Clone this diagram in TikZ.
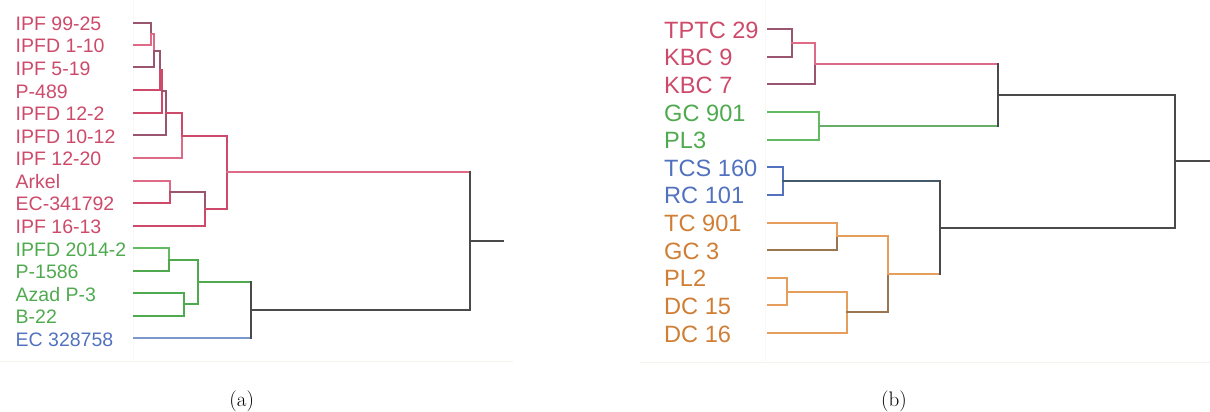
\documentclass[tikz,border=0pt]{standalone}
\usepackage{fontspec}
\newfontfamily\labfont{Liberation Sans}
\definecolor{cred}{HTML}{CD4A6A}
\definecolor{lred}{HTML}{DF6A88}
\definecolor{dred}{HTML}{9A5570}
\definecolor{cgreen}{HTML}{4FAA4F}
\definecolor{lgreen}{HTML}{62BA62}
\definecolor{cblue}{HTML}{5272C0}
\definecolor{lblue}{HTML}{7B98CE}
\definecolor{cslate}{HTML}{44596A}
\definecolor{corange}{HTML}{D07E35}
\definecolor{lorange}{HTML}{E59E5C}
\definecolor{dorange}{HTML}{9A7650}
\definecolor{cblack}{HTML}{4A4A4A}
\definecolor{faint}{HTML}{F4F4EE}
\tikzset{
  leftlab/.style={anchor=base west, inner sep=0pt, font=\labfont\fontsize{19.5}{22}\selectfont},
  rightlab/.style={anchor=base west, inner sep=0pt, font=\labfont\fontsize{23.6}{27}\selectfont},
  cl/.style={line width=2pt, line cap=rect},
  bl/.style={line width=2pt, color=cblack, line cap=rect},
  capt/.style={inner sep=0pt, font=\fontsize{21}{25}\selectfont},
}
\begin{document}
\begin{tikzpicture}[x=1pt,y=-1pt]
\useasboundingbox (0,0) rectangle (1210,412);
% faint panel rules
\draw[faint, line width=1pt] (0,361.5) -- (513,361.5);
\draw[faint, line width=1pt] (640,362) -- (1210,362);
\draw[faint!70!white, line width=0.6pt] (133,0) -- (133,361);
\draw[faint!70!white, line width=0.6pt] (765,0) -- (765,361);

% ---------------- panel (a) ----------------
\foreach \n/\y in {1/23,2/45,3/67,4/90,5/113,6/135,7/158,8/181,9/203,10/226,11/248,12/271,13/293,14/316,15/338}
  {\coordinate (L\n) at (134,\y);}
\node[leftlab, text=cred] (tl1) at (15.5,30.7) {IPF 99-25};
\node[leftlab, text=cred] (tl2) at (15.5,52.5) {IPFD 1-10};
\node[leftlab, text=cred] (tl3) at (15.5,75) {IPF 5-19};
\node[leftlab, text=cred] (tl4) at (15.5,98) {P-489};
\node[leftlab, text=cred] (tl5) at (15.5,120.7) {IPFD 12-2};
\node[leftlab, text=cred] (tl6) at (15.5,143) {IPFD 10-12};
\node[leftlab, text=cred] (tl7) at (15.5,165.5) {IPF 12-20};
\node[leftlab, text=cred] (tl8) at (15.5,188.5) {Arkel};
\node[leftlab, text=cred] (tl9) at (15.5,210.8) {EC-341792};
\node[leftlab, text=cred] (tl10) at (15.5,233.5) {IPF 16-13};
\node[leftlab, text=cgreen] (tl11) at (15.5,256.3) {IPFD 2014-2};
\node[leftlab, text=cgreen] (tl12) at (15.5,278.8) {P-1586};
\node[leftlab, text=cgreen] (tl13) at (15.5,301.3) {Azad P-3};
\node[leftlab, text=cgreen] (tl14) at (15.5,323.8) {B-22};
\node[leftlab, text=cblue] (tl15) at (15.5,346.3) {EC 328758};

\coordinate (a1) at (151,34);
\coordinate (a2) at (154,51);
\coordinate (a3) at (160,70);
\coordinate (a4) at (162,91);
\coordinate (a5) at (166,113);
\coordinate (a6) at (182,136);
\coordinate (b1) at (170,192);
\coordinate (b2) at (205,209);
\coordinate (ar) at (227,172);
\coordinate (g1) at (169,260);
\coordinate (g2) at (184,304);
\coordinate (g3) at (198,282);
\coordinate (g4) at (251,310);
\coordinate (rootA) at (470,241);
\coordinate (stubA) at (503,241);

\draw[cl, dred] (L1) -| (a1);
\draw[cl, lred] (L2) -| (a1);
\draw[cl, lred] (a1) -| (a2);
\draw[cl, dred] (L3) -| (a2);
\draw[cl, dred] (a2) -| (a3);
\draw[cl, cred] (L4) -| (a3);
\draw[cl, cred] (a3) -| (a4);
\draw[cl, cred] (L5) -| (a4);
\draw[cl, dred] (a4) -| (a5);
\draw[cl, dred] (L6) -| (a5);
\draw[cl, cred] (a5) -| (a6);
\draw[cl, lred] (L7) -| (a6);
\draw[cl, lred] (L8) -| (b1);
\draw[cl, cred] (L9) -| (b1);
\draw[cl, dred] (b1) -| (b2);
\draw[cl, cred] (L10) -| (b2);
\draw[cl, cred] (a6) -| (ar);
\draw[cl, cred] (b2) -| (ar);
\draw[cl, lgreen] (L11) -| (g1);
\draw[cl, cgreen] (L12) -| (g1);
\draw[cl, cgreen] (L13) -| (g2);
\draw[cl, cgreen] (L14) -| (g2);
\draw[cl, cgreen] (g1) -| (g3);
\draw[cl, cgreen] (g2) -| (g3);
\draw[cl, cgreen] (g3) -- (g3 -| g4);
\draw[cl, lblue] (L15) -- (L15 -| g4);
\draw[bl] (g3 -| g4) -- (L15 -| g4);
\draw[cl, lred] (ar) -- (ar -| rootA);
\draw[bl] (g4) -- (g4 -| rootA);
\draw[bl] (ar -| rootA) -- (g4 -| rootA);
\draw[bl] (rootA) -- (stubA);

\node[capt] (capa) at (241.7,401) {(a)};

% ---------------- panel (b) ----------------
\foreach \n/\y in {1/29,2/57,3/84,4/112,5/140,6/167,7/195,8/223,9/250,10/278,11/305,12/333}
  {\coordinate (R\n) at (768,\y);}
\node[rightlab, text=cred] (tr1) at (664,38.2) {TPTC 29};
\node[rightlab, text=cred] (tr2) at (664,65.8) {KBC 9};
\node[rightlab, text=cred] (tr3) at (664,93.4) {KBC 7};
\node[rightlab, text=cgreen] (tr4) at (664,121) {GC 901};
\node[rightlab, text=cgreen] (tr5) at (664,148.6) {PL3};
\node[rightlab, text=cblue] (tr6) at (664,176.3) {TCS 160};
\node[rightlab, text=cblue] (tr7) at (664,203.9) {RC 101};
\node[rightlab, text=corange] (tr8) at (664,231.5) {TC 901};
\node[rightlab, text=corange] (tr9) at (664,259.1) {GC 3};
\node[rightlab, text=corange] (tr10) at (664,286.8) {PL2};
\node[rightlab, text=corange] (tr11) at (664,314.4) {DC 15};
\node[rightlab, text=corange] (tr12) at (664,342) {DC 16};

\coordinate (c1) at (792,43);
\coordinate (c2) at (815,64);
\coordinate (c3) at (819,126);
\coordinate (d1) at (783,181);
\coordinate (e1) at (837,236);
\coordinate (e2) at (787,292);
\coordinate (e3) at (847,312);
\coordinate (e4) at (888,274);
\coordinate (f1) at (998,95);
\coordinate (f2) at (940,228);
\coordinate (rootB) at (1175,161);
\coordinate (stubB) at (1210,161);

\draw[cl, dred] (R1) -| (c1);
\draw[cl, dred] (R2) -| (c1);
\draw[cl, lred] (c1) -| (c2);
\draw[cl, dred] (R3) -| (c2);
\draw[cl, lgreen] (R4) -| (c3);
\draw[cl, lgreen] (R5) -| (c3);
\draw[cl, cblue] (R6) -| (d1);
\draw[cl, cblue] (R7) -| (d1);
\draw[cl, lorange] (R8) -| (e1);
\draw[cl, dorange] (R9) -| (e1);
\draw[cl, lorange] (R10) -| (e2);
\draw[cl, lorange] (R11) -| (e2);
\draw[cl, lorange] (e2) -| (e3);
\draw[cl, lorange] (R12) -| (e3);
\draw[cl, lorange] (e1) -| (e4);
\draw[cl, dorange] (e3) -| (e4);
\draw[cl, lred] (c2) -- (c2 -| f1);
\draw[cl, lgreen!80!gray] (c3) -- (c3 -| f1);
\draw[bl] (c2 -| f1) -- (c3 -| f1);
\draw[cl, cslate] (d1) -- (d1 -| f2);
\draw[cl, lorange] (e4) -- (e4 -| f2);
\draw[bl] (d1 -| f2) -- (e4 -| f2);
\draw[bl] (f1) -- (f1 -| rootB);
\draw[bl] (f2) -- (f2 -| rootB);
\draw[bl] (f1 -| rootB) -- (f2 -| rootB);
\draw[bl] (rootB) -- (stubB);

\node[capt] (capb) at (894,401) {(b)};
\end{tikzpicture}
\end{document}
